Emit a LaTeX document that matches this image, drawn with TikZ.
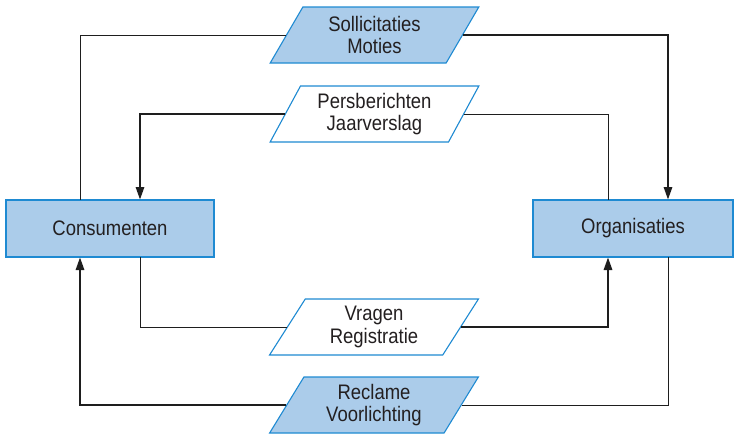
\documentclass[tikz,border=0pt]{standalone}
\usepackage{fontspec}
\setmainfont{Liberation Sans}[FakeStretch=0.88]
\usetikzlibrary{shapes.geometric,arrows.meta}
\definecolor{boxfill}{RGB}{171,204,234}
\definecolor{boxline}{RGB}{30,138,210}
\definecolor{txt}{RGB}{35,31,32}
\definecolor{ln}{RGB}{30,30,30}
\tikzset{
  entity/.style={draw=boxline,line width=1.1pt,fill=boxfill,minimum width=#1,minimum height=57pt,inner sep=0pt,text=txt,font=\fontsize{21}{22.6}\selectfont},
  flow/.style={trapezium,trapezium left angle=61,trapezium right angle=119,trapezium stretches=true,draw=boxline,line width=1.1pt,minimum width=209pt,minimum height=56pt,inner sep=0pt,align=center,text=txt,font=\fontsize{21}{22.6}\selectfont},
  flowblue/.style={flow,fill=boxfill},
  flowwhite/.style={flow,fill=white},
  thin/.style={draw=ln,line width=1pt},
  thick/.style={draw=ln,line width=2.8pt,-{Triangle[length=13pt,width=8pt]}},
}
\begin{document}
\begin{tikzpicture}[x=1pt,y=-1pt]
\useasboundingbox (0,0) rectangle (734,434);
\node[entity=208pt] (cons) at (110,228.5) {Consumenten};
\node[entity=200pt] (org) at (633,228.5) {Organisaties};
\coordinate (cA) at (80,200);
\coordinate (cB) at (140,200);
\coordinate (cC) at (80,257);
\coordinate (cD) at (140,257);
\coordinate (oA) at (608,200);
\coordinate (oB) at (668,200);
\coordinate (oC) at (608,257);
\coordinate (oD) at (668,257);
\node[flowblue] (sol) at (374.5,35) {Sollicitaties\\Moties};
\node[flowwhite] (pers) at (374.5,114) {Persberichten\\Jaarverslag};
\node[flowwhite] (vra) at (374,327) {Vragen\\Registratie};
\node[flowblue] (rec) at (374,405) {Reclame\\Voorlichting};
\draw[thin] (sol.west) -| (cA);
\draw[thick] (sol.east) -| (oB);
\draw[thick] (pers.west) -| (cB);
\draw[thin] (pers.east) -| (oA);
\draw[thin] (vra.west) -| (cD);
\draw[thick] (vra.east) -| (oC);
\draw[thick] (rec.west) -| (cC);
\draw[thin] (rec.east) -| (oD);
\end{tikzpicture}
\end{document}
